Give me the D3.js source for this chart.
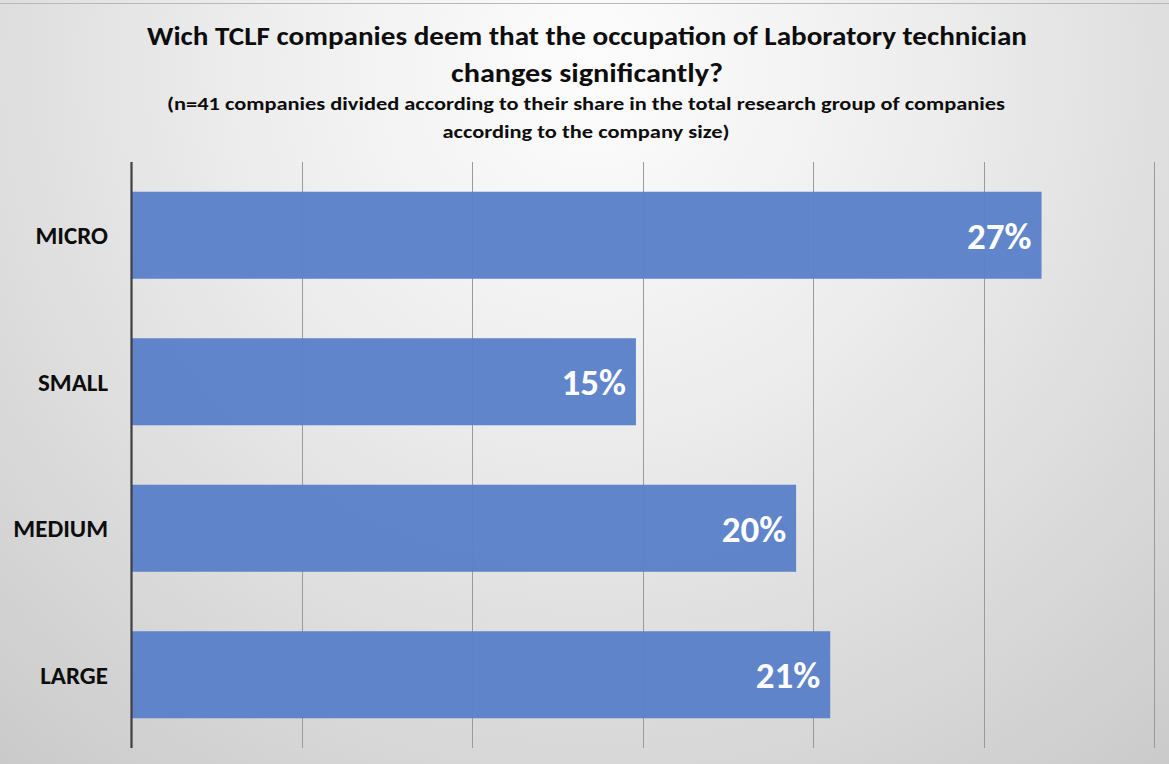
<!DOCTYPE html>
<html>
<head>
<meta charset="utf-8">
<script src="https://cdn.jsdelivr.net/npm/d3@7"></script>
<style>
  html, body { margin: 0; padding: 0; background: #fff; }
  svg { display: block; }
  text { font-family: Carlito, Calibri, Lato, "Open Sans", sans-serif; }
</style>
</head>
<body>
<svg id="chart" width="1169" height="764"></svg>
<script>
// ---- data ----
const categories = ["MICRO", "SMALL", "MEDIUM", "LARGE"];
const values = [26.7, 14.8, 19.5, 20.5];           // percent
const xTicks = [0, 5, 10, 15, 20, 25, 30];
const titleLines = [
  "Wich TCLF companies deem that the occupation of Laboratory technician",
  "changes significantly?"
];
const subtitleLines = [
  "(n=41 companies divided according to their share in the total research group of companies",
  "according to the company size)"
];

const W = 1169, H = 764;
const svg = d3.select("#chart");

// background
const defs = svg.append("defs");
const grad = defs.append("radialGradient")
  .attr("id", "bg").attr("gradientUnits", "userSpaceOnUse")
  .attr("cx", 590).attr("cy", 70).attr("r", 980);
grad.append("stop").attr("offset", "0").attr("stop-color", "#fdfdfd");
grad.append("stop").attr("offset", "0.35").attr("stop-color", "#ededed");
grad.append("stop").attr("offset", "1").attr("stop-color", "#c6c6c6");
svg.append("rect").attr("width", W).attr("height", H).attr("fill", "url(#bg)");
svg.append("line").attr("x1", 0).attr("x2", W).attr("y1", 3.5).attr("y2", 3.5)
  .attr("stroke", "#b8b8b8").attr("stroke-width", 1);

// scales
const x = d3.scaleLinear().domain([0, 30]).range([131.5, 1154]);
const y = d3.scaleBand().domain(categories).range([162, 748]).paddingInner(0.406).paddingOuter(0.203);

// grid
svg.append("g").selectAll("line").data(xTicks.slice(1)).join("line")
  .attr("x1", d => Math.round(x(d)) + 0.5).attr("x2", d => Math.round(x(d)) + 0.5)
  .attr("y1", 162).attr("y2", 748)
  .attr("stroke", "#9a9a9a").attr("stroke-width", 1);

// bars
svg.append("g").selectAll("rect").data(values).join("rect")
  .attr("x", x(0))
  .attr("y", (d, i) => y(categories[i]))
  .attr("width", d => x(d) - x(0))
  .attr("height", y.bandwidth())
  .attr("fill", "#5b81c9")
  .attr("fill-opacity", 0.97);

// axis line
svg.append("line").attr("x1", x(0)).attr("x2", x(0)).attr("y1", 162).attr("y2", 748)
  .attr("stroke", "#3f3f3f").attr("stroke-width", 2.2);

// category labels
svg.append("g").selectAll("text").data(categories).join("text")
  .attr("x", 108)
  .attr("y", d => y(d) + y.bandwidth() / 2)
  .attr("dy", "0.36em")
  .attr("text-anchor", "end")
  .attr("font-size", 25)
  .attr("font-weight", 700)
  .attr("fill", "#0d0d0d")
  .text(d => d);

// value labels
svg.append("g").selectAll("text").data(values).join("text")
  .attr("x", d => x(d) - 10)
  .attr("y", (d, i) => y(categories[i]) + y.bandwidth() / 2)
  .attr("dy", "0.36em")
  .attr("text-anchor", "end")
  .attr("font-size", 37)
  .attr("font-weight", 700)
  .attr("fill", "#ffffff")
  .text(d => Math.round(d) + "%");

// titles
const tY = [45, 82];
const tW = [880, 272];
titleLines.forEach((t, i) => {
  svg.append("text").attr("x", 587).attr("y", tY[i])
    .attr("text-anchor", "middle").attr("font-size", 26).attr("font-weight", 700)
    .attr("fill", "#0d0d0d")
    .attr("textLength", tW[i]).attr("lengthAdjust", "spacingAndGlyphs")
    .text(t);
});
const sY = [110, 138];
const sW = [838, 287];
subtitleLines.forEach((t, i) => {
  svg.append("text").attr("x", 586).attr("y", sY[i])
    .attr("text-anchor", "middle").attr("font-size", 19).attr("font-weight", 700)
    .attr("fill", "#0d0d0d")
    .attr("textLength", sW[i]).attr("lengthAdjust", "spacingAndGlyphs")
    .text(t);
});
</script>
</body>
</html>
